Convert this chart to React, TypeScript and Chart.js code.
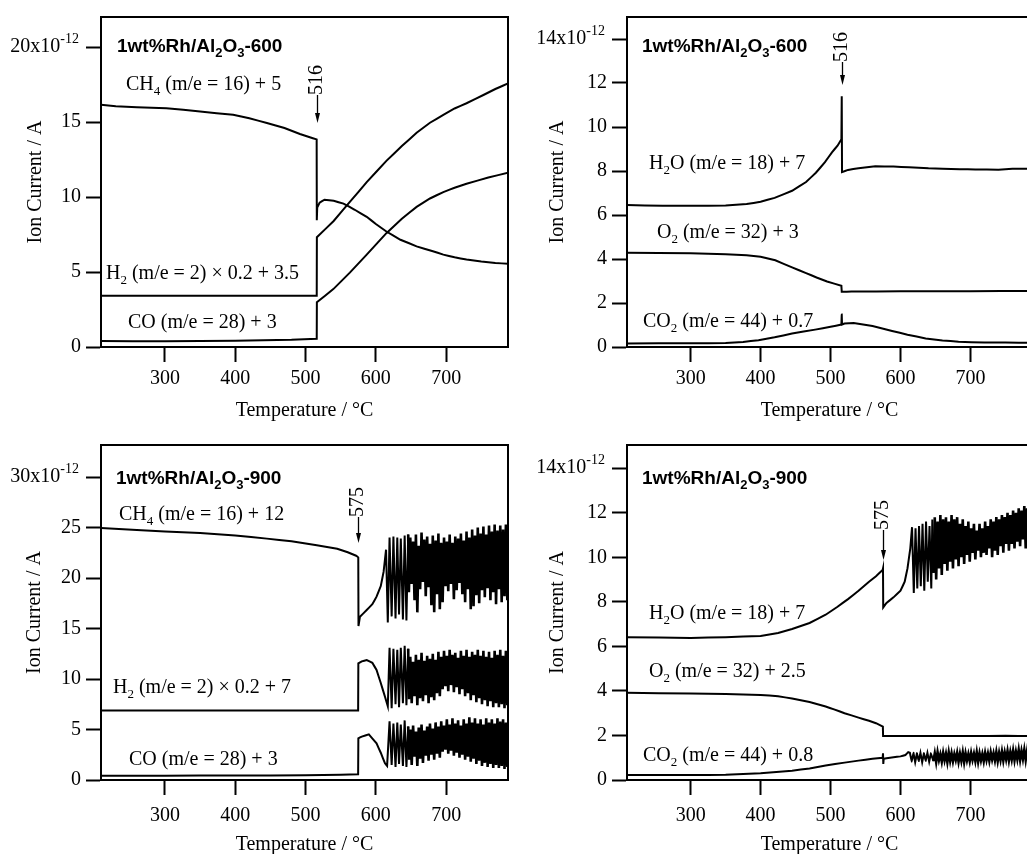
import React, { useEffect, useRef } from "react";
import { Chart, registerables } from "chart.js";

Chart.register(...registerables);

const SERIF = '"Liberation Serif", "Times New Roman", Times, serif';
const SANS = '"Liberation Sans", Arial, Helvetica, sans-serif';

// ---------------- ticks ----------------
const X_MIN = 209;
const X_MAX = 788;
const X_TICKS = [300, 400, 500, 600, 700];
const Y_TICKS_A600 = [0, 5, 10, 15, 20];
const Y_TICKS_B600 = [0, 2, 4, 6, 8, 10, 12, 14];
const Y_TICKS_A900 = [0, 5, 10, 15, 20, 25, 30];
const Y_TICKS_B900 = [0, 2, 4, 6, 8, 10, 12, 14];
const TOP_A600 = ["20x10", "-12"];
const TOP_B600 = ["14x10", "-12"];
const TOP_A900 = ["30x10", "-12"];
const TOP_B900 = ["14x10", "-12"];
const NOISE_START = 646; // temperature where the dense oscillation begins (900 sample)

// ---------------- Rh/Al2O3-600 : CH4, H2, CO ----------------
const T_CH4_600 = [209, 230, 260, 302, 350, 397, 420, 445, 470, 492, 505, 515.8, 516, 516.6, 520, 527, 540, 554, 570, 587, 600, 615, 635, 658, 680, 696, 712, 729, 750, 770, 788];
const CH4_600 = [16.15, 16.05, 15.98, 15.92, 15.7, 15.48, 15.25, 14.93, 14.6, 14.2, 14.0, 13.84, 8.45, 9.3, 9.62, 9.82, 9.75, 9.56, 9.15, 8.68, 8.2, 7.7, 7.15, 6.71, 6.4, 6.16, 5.98, 5.83, 5.7, 5.6, 5.55];
const T_H2_600 = [209, 300, 400, 515.9, 516.1, 540, 563, 587, 615, 637, 658, 677, 696, 712, 729, 753, 770, 788];
const H2_600 = [3.42, 3.42, 3.42, 3.42, 7.32, 8.4, 9.67, 10.99, 12.41, 13.4, 14.28, 14.95, 15.48, 15.9, 16.25, 16.8, 17.2, 17.57];
const T_CO_600 = [209, 300, 400, 480, 515.9, 516.1, 539.5, 563, 587, 615, 637, 658, 677, 696, 712, 729, 760, 788];
const CO_600 = [0.4, 0.38, 0.42, 0.48, 0.55, 2.98, 3.86, 4.96, 6.16, 7.59, 8.55, 9.34, 9.9, 10.33, 10.62, 10.88, 11.3, 11.62];

// ---------------- Rh/Al2O3-600 : H2O, O2, CO2 ----------------
const T_H2O_600 = [209, 260, 300, 350, 380, 400, 420, 445, 465, 479, 492, 502, 510, 515.5, 516, 516.4, 525, 540, 564, 590, 612, 640, 660, 685, 707, 740, 760, 788];
const H2O_600 = [6.45, 6.42, 6.42, 6.43, 6.5, 6.6, 6.78, 7.1, 7.5, 7.92, 8.4, 8.85, 9.15, 9.44, 11.4, 7.95, 8.05, 8.13, 8.22, 8.2, 8.17, 8.12, 8.1, 8.08, 8.07, 8.06, 8.1, 8.1];
const T_O2_600 = [209, 300, 350, 380, 400, 421, 445, 465, 480, 495, 515.5, 516, 530, 600, 700, 788];
const O2_600 = [4.28, 4.26, 4.22, 4.17, 4.1, 3.94, 3.62, 3.36, 3.16, 2.98, 2.78, 2.51, 2.52, 2.53, 2.53, 2.55];
const T_CO2_600 = [209, 300, 350, 375, 397, 420, 445, 478, 500, 515.5, 516, 516.4, 520, 533, 560, 588, 610, 636, 660, 683, 720, 750, 788];
const CO2_600 = [0.16, 0.17, 0.18, 0.23, 0.31, 0.44, 0.61, 0.79, 0.92, 1.02, 1.48, 1.02, 1.07, 1.09, 0.95, 0.73, 0.56, 0.39, 0.3, 0.24, 0.2, 0.2, 0.19];

// ---------------- Rh/Al2O3-900 : CH4, H2, CO ----------------
const T_CH4_900 = [209, 260, 300, 350, 400, 445, 480, 516, 545, 560, 572, 575, 575.3, 577.4, 587, 595, 601, 607, 611, 614.5, 617, 619.5, 622.5, 625, 628, 630.5, 633, 635.5, 638.5, 641, 643.5, 646];
const CH4_900 = [24.95, 24.75, 24.6, 24.45, 24.2, 23.9, 23.65, 23.25, 22.9, 22.55, 22.2, 22.05, 15.25, 16.17, 16.83, 17.4, 18.15, 19.2, 20.6, 22.8, 15.6, 24.0, 16.2, 24.1, 16.0, 24.0, 16.4, 23.9, 15.9, 24.2, 15.8, 24.3];
const T_H2_900 = [209, 300, 400, 500, 574.8, 575.1, 580, 587, 595, 601, 607, 613, 617, 619.5, 622.5, 625, 628, 630.5, 633, 635.5, 638.5, 641, 643.5, 646];
const H2_900 = [6.87, 6.87, 6.87, 6.87, 6.87, 11.55, 11.75, 11.88, 11.6, 10.9, 9.6, 8.25, 7.3, 13.1, 7.1, 13.0, 7.5, 12.9, 7.2, 13.1, 7.6, 13.3, 7.4, 13.0];
const T_CO_900 = [209, 300, 400, 500, 550, 574.8, 575.1, 580, 590, 601, 607, 613, 616, 619.5, 622.5, 625, 628, 630.5, 633, 635.5, 638.5, 641, 643.5, 646];
const CO_900 = [0.43, 0.43, 0.44, 0.47, 0.52, 0.56, 4.13, 4.3, 4.52, 3.63, 2.7, 1.65, 1.4, 5.8, 1.5, 5.6, 1.3, 5.7, 1.6, 5.5, 1.4, 5.9, 1.3, 5.3];

// dense oscillation region, shared temperature grid
const T_NOISE_900 = [647, 649, 651, 653, 655, 657, 659, 661, 663, 665, 667, 669, 671, 673, 675, 677, 679, 681, 683, 685, 687, 689, 691, 693, 695, 697, 699, 701, 703, 705, 707, 709, 711, 713, 715, 717, 719, 721, 723, 725, 727, 729, 731, 733, 735, 737, 739, 741, 743, 745, 747, 749, 751, 753, 755, 757, 759, 761, 763, 765, 767, 769, 771, 773, 775, 777, 779, 781, 783, 785, 787];
const CH4_900_N = [18.6, 24.0, 19.4, 23.6, 17.8, 24.3, 16.6, 23.2, 18.9, 24.5, 19.6, 23.8, 18.2, 24.1, 19.1, 23.4, 17.3, 24.2, 16.6, 23.7, 18.4, 24.4, 16.9, 23.5, 17.6, 24.0, 19.2, 23.6, 18.7, 24.3, 19.4, 23.5, 17.9, 24.1, 18.8, 23.9, 19.5, 24.4, 18.4, 23.7, 17.6, 24.6, 18.9, 24.0, 16.9, 24.8, 17.2, 24.2, 18.3, 25.0, 17.5, 24.4, 18.8, 25.1, 18.1, 24.3, 19.0, 25.2, 17.8, 24.6, 18.6, 25.3, 17.4, 24.7, 18.9, 25.2, 17.6, 24.8, 18.2, 25.3, 17.8];
const H2_900_N = [8.0, 12.2, 7.6, 11.7, 8.3, 12.4, 7.4, 11.9, 8.1, 12.6, 7.8, 11.8, 8.4, 12.3, 7.6, 12.0, 8.2, 12.5, 7.9, 11.9, 8.6, 12.7, 8.3, 12.2, 9.0, 12.8, 9.3, 12.3, 8.8, 12.9, 9.4, 12.4, 8.7, 12.6, 9.2, 12.1, 8.5, 12.8, 9.0, 12.3, 8.3, 12.9, 8.6, 12.2, 7.9, 12.7, 8.4, 12.4, 7.7, 12.9, 8.1, 12.3, 7.5, 12.8, 7.9, 12.2, 7.3, 12.7, 7.8, 12.1, 7.2, 12.8, 7.6, 12.4, 7.2, 12.9, 7.5, 12.3, 7.1, 12.8, 7.4];
const CO_900_N = [2.0, 5.0, 1.5, 5.4, 2.3, 4.8, 1.4, 5.2, 2.1, 5.5, 1.7, 4.9, 2.4, 5.3, 1.9, 5.6, 2.5, 5.1, 2.0, 5.7, 2.6, 5.3, 2.2, 5.8, 2.8, 5.4, 3.0, 6.0, 2.6, 5.5, 2.9, 6.1, 2.4, 5.6, 2.7, 5.9, 2.2, 5.4, 2.5, 6.0, 2.0, 5.6, 2.3, 6.2, 1.8, 5.7, 2.1, 6.1, 1.6, 5.6, 1.9, 6.0, 1.4, 5.5, 1.7, 6.1, 1.3, 5.7, 1.6, 6.0, 1.2, 5.6, 1.5, 6.1, 1.2, 5.8, 1.4, 6.0, 1.1, 5.7, 1.3];

// ---------------- Rh/Al2O3-900 : H2O, O2, CO2 ----------------
const T_H2O_900 = [209, 300, 350, 400, 425, 445, 470, 493, 510, 525, 540, 555, 565, 574.5, 575, 575.3, 580, 590, 600, 606, 610, 614, 616.5, 619, 621.5, 624, 626.5, 629, 631.5, 634, 636.5, 639, 641.5, 644, 645.5];
const H2O_900 = [6.41, 6.38, 6.41, 6.47, 6.6, 6.78, 7.05, 7.42, 7.78, 8.12, 8.5, 8.9, 9.15, 9.43, 9.5, 7.75, 7.95, 8.2, 8.5, 8.9, 9.5, 10.4, 11.35, 8.4, 11.3, 8.6, 11.4, 8.7, 11.5, 8.5, 11.6, 8.9, 11.4, 8.6, 11.7];
const T_O2_900 = [209, 300, 350, 400, 425, 445, 470, 493, 505, 520, 540, 555, 565, 574.8, 575.1, 600, 650, 700, 750, 788];
const O2_900 = [3.92, 3.88, 3.86, 3.82, 3.76, 3.66, 3.5, 3.3, 3.17, 3.0, 2.8, 2.66, 2.55, 2.4, 1.97, 1.97, 1.98, 1.97, 1.99, 1.97];
const T_CO2_900 = [209, 300, 350, 400, 445, 470, 493, 520, 540, 560, 574.5, 575, 575.4, 576, 580, 590, 600, 607, 611, 613.5, 616, 618.5, 621, 623.5, 626, 628.5, 631, 633.5, 636, 638.5, 641, 643.5];
const CO2_900 = [0.22, 0.22, 0.24, 0.3, 0.42, 0.52, 0.65, 0.78, 0.87, 0.95, 1.0, 1.2, 0.72, 0.95, 0.98, 1.02, 1.06, 1.12, 1.25, 1.22, 0.82, 1.22, 0.8, 1.2, 0.85, 1.22, 0.8, 1.2, 0.86, 1.22, 0.82, 1.2];
const H2O_900_N = [9.3, 11.8, 9.0, 11.6, 9.5, 11.9, 9.2, 11.7, 9.7, 11.8, 9.4, 11.6, 9.8, 11.9, 9.5, 11.7, 9.9, 11.8, 9.6, 11.5, 10.0, 11.7, 9.7, 11.4, 10.1, 11.6, 9.8, 11.3, 10.2, 11.5, 9.9, 11.2, 10.3, 11.5, 10.0, 11.3, 10.2, 11.6, 10.1, 11.4, 10.4, 11.7, 10.0, 11.6, 10.3, 11.8, 10.1, 11.7, 10.5, 11.9, 10.2, 11.8, 10.6, 12.0, 10.3, 11.9, 10.6, 12.1, 10.4, 12.0, 10.7, 12.2, 10.5, 12.1, 10.8, 12.3, 10.4, 12.2, 10.7, 12.3, 10.6];
const CO2_900_N = [0.85, 1.2, 0.8, 1.25, 0.9, 1.15, 0.82, 1.22, 0.88, 1.18, 0.8, 1.24, 0.86, 1.2, 0.84, 1.16, 0.9, 1.22, 0.82, 1.18, 0.86, 1.24, 0.8, 1.2, 0.88, 1.16, 0.84, 1.22, 0.9, 1.18, 0.85, 1.25, 0.82, 1.2, 0.88, 1.17, 0.84, 1.22, 0.9, 1.19, 0.86, 1.24, 0.92, 1.2, 0.88, 1.26, 0.85, 1.22, 0.9, 1.28, 0.87, 1.24, 0.93, 1.3, 0.88, 1.25, 0.92, 1.32, 0.89, 1.27, 0.94, 1.35, 0.9, 1.3, 0.95, 1.36, 0.9, 1.32, 0.93, 1.37, 0.92];

// ---------------- text ----------------
type Seg = [string, "n" | "sub"];
const TITLE_600: Seg[] = [["1wt%Rh/Al", "n"], ["2", "sub"], ["O", "n"], ["3", "sub"], ["-600", "n"]];
const TITLE_900: Seg[] = [["1wt%Rh/Al", "n"], ["2", "sub"], ["O", "n"], ["3", "sub"], ["-900", "n"]];
const L_CH4_600: Seg[] = [["CH", "n"], ["4", "sub"], [" (m/e = 16) + 5", "n"]];
const L_H2_600: Seg[] = [["H", "n"], ["2", "sub"], [" (m/e = 2) \u00d7 0.2 + 3.5", "n"]];
const L_CO_600: Seg[] = [["CO (m/e = 28) + 3", "n"]];
const L_H2O_600: Seg[] = [["H", "n"], ["2", "sub"], ["O (m/e = 18) + 7", "n"]];
const L_O2_600: Seg[] = [["O", "n"], ["2", "sub"], [" (m/e = 32) + 3", "n"]];
const L_CO2_600: Seg[] = [["CO", "n"], ["2", "sub"], [" (m/e = 44) + 0.7", "n"]];
const L_CH4_900: Seg[] = [["CH", "n"], ["4", "sub"], [" (m/e = 16) + 12", "n"]];
const L_H2_900: Seg[] = [["H", "n"], ["2", "sub"], [" (m/e = 2) \u00d7 0.2 + 7", "n"]];
const L_CO_900: Seg[] = [["CO (m/e = 28) + 3", "n"]];
const L_H2O_900: Seg[] = [["H", "n"], ["2", "sub"], ["O (m/e = 18) + 7", "n"]];
const L_O2_900: Seg[] = [["O", "n"], ["2", "sub"], [" (m/e = 32) + 2.5", "n"]];
const L_CO2_900: Seg[] = [["CO", "n"], ["2", "sub"], [" (m/e = 44) + 0.8", "n"]];

type Pt = { x: number; y: number };
type Series = { pts: Pt[]; dense: boolean };
function pts(t: number[], v: number[]): Pt[] {
  return t.map((x, i) => ({ x, y: v[i] }));
}

interface PanelDef {
  canvas: { left: number; top: number; width: number; height: number };
  area: { l: number; t: number; r: number; b: number };
  yMax: number;
  yTicks: number[];
  topLabel: string[];
  series: Series[];
  title: { segs: Seg[]; x: number; y: number };
  labels: { segs: Seg[]; x: number; y: number }[];
  marker: { value: number; text: string; textBottom: number; tip: number };
  yTitlePad: number;
  xTitlePad: number;
  xTickPad: number;
}

const PANELS: PanelDef[] = [
  {
    canvas: { left: 0, top: 0, width: 515, height: 425 },
    area: { l: 101, t: 13, r: 508, b: 347 },
    yMax: 22,
    yTicks: Y_TICKS_A600,
    topLabel: TOP_A600,
    series: [
      { pts: pts(T_CH4_600, CH4_600), dense: false },
      { pts: pts(T_H2_600, H2_600), dense: false },
      { pts: pts(T_CO_600, CO_600), dense: false },
    ],
    title: { segs: TITLE_600, x: 117, y: 52 },
    labels: [
      { segs: L_CH4_600, x: 126, y: 90 },
      { segs: L_H2_600, x: 106, y: 279 },
      { segs: L_CO_600, x: 128, y: 328 },
    ],
    marker: { value: 516, text: "516", textBottom: 95, tip: 123 },
    yTitlePad: 24,
    xTitlePad: 2,
    xTickPad: 5,
  },
  {
    canvas: { left: 515, top: 0, width: 530, height: 425 },
    area: { l: 627, t: 13, r: 1032, b: 347 },
    yMax: 15,
    yTicks: Y_TICKS_B600,
    topLabel: TOP_B600,
    series: [
      { pts: pts(T_H2O_600, H2O_600), dense: false },
      { pts: pts(T_O2_600, O2_600), dense: false },
      { pts: pts(T_CO2_600, CO2_600), dense: false },
    ],
    title: { segs: TITLE_600, x: 642, y: 52 },
    labels: [
      { segs: L_H2O_600, x: 649, y: 169 },
      { segs: L_O2_600, x: 657, y: 238 },
      { segs: L_CO2_600, x: 643, y: 327 },
    ],
    marker: { value: 516, text: "516", textBottom: 62, tip: 85 },
    yTitlePad: 31,
    xTitlePad: 2,
    xTickPad: 5,
  },
  {
    canvas: { left: 0, top: 425, width: 515, height: 435 },
    area: { l: 101, t: 445, r: 508, b: 780 },
    yMax: 33.17,
    yTicks: Y_TICKS_A900,
    topLabel: TOP_A900,
    series: [
      { pts: pts(T_CH4_900, CH4_900).concat(pts(T_NOISE_900, CH4_900_N)), dense: true },
      { pts: pts(T_H2_900, H2_900).concat(pts(T_NOISE_900, H2_900_N)), dense: true },
      { pts: pts(T_CO_900, CO_900).concat(pts(T_NOISE_900, CO_900_N)), dense: true },
    ],
    title: { segs: TITLE_900, x: 116, y: 484 },
    labels: [
      { segs: L_CH4_900, x: 119, y: 520 },
      { segs: L_H2_900, x: 113, y: 693 },
      { segs: L_CO_900, x: 129, y: 765 },
    ],
    marker: { value: 575, text: "575", textBottom: 517, tip: 543 },
    yTitlePad: 23,
    xTitlePad: 3,
    xTickPad: 9,
  },
  {
    canvas: { left: 515, top: 425, width: 530, height: 435 },
    area: { l: 627, t: 445, r: 1032, b: 780 },
    yMax: 15.04,
    yTicks: Y_TICKS_B900,
    topLabel: TOP_B900,
    series: [
      { pts: pts(T_H2O_900, H2O_900).concat(pts(T_NOISE_900, H2O_900_N)), dense: true },
      { pts: pts(T_O2_900, O2_900), dense: false },
      { pts: pts(T_CO2_900, CO2_900).concat(pts(T_NOISE_900, CO2_900_N)), dense: true },
    ],
    title: { segs: TITLE_900, x: 642, y: 484 },
    labels: [
      { segs: L_H2O_900, x: 649, y: 619 },
      { segs: L_O2_900, x: 649, y: 677 },
      { segs: L_CO2_900, x: 643, y: 761 },
    ],
    marker: { value: 575, text: "575", textBottom: 530, tip: 560 },
    yTitlePad: 31,
    xTitlePad: 3,
    xTickPad: 9,
  },
];

function drawSegs(ctx: CanvasRenderingContext2D, segs: Seg[], x: number, y: number, weight: string, size: number, subSize: number, family: string) {
  ctx.textAlign = "left";
  ctx.textBaseline = "alphabetic";
  let cx = x;
  for (const [t, k] of segs) {
    const s = k === "n" ? size : subSize;
    ctx.font = `${weight} ${s}px ${family}`.trim();
    ctx.fillText(t, cx, k === "sub" ? y + 5 : y);
    cx += ctx.measureText(t).width;
  }
}

function makeDecor(p: PanelDef) {
  return {
    id: "decor",
    afterDraw(chart: any) {
      const ctx: CanvasRenderingContext2D = chart.ctx;
      const ca = chart.chartArea;
      const ox = p.canvas.left;
      const oy = p.canvas.top;
      const xs = chart.scales.x;
      const ys = chart.scales.y;
      ctx.save();
      ctx.strokeStyle = "#000";
      ctx.fillStyle = "#000";
      ctx.lineWidth = 2;
      ctx.strokeRect(ca.left, ca.top, ca.right - ca.left, ca.bottom - ca.top);

      // top tick label with exponent
      const topVal = p.yTicks[p.yTicks.length - 1];
      const ty = ys.getPixelForValue(topVal);
      const rx = ca.left - 22;
      ctx.textAlign = "right";
      ctx.textBaseline = "middle";
      ctx.font = `14px ${SERIF}`;
      const sw = ctx.measureText(p.topLabel[1]).width;
      ctx.fillText(p.topLabel[1], rx, ty - 8);
      ctx.font = `20px ${SERIF}`;
      ctx.fillText(p.topLabel[0], rx - sw, ty);

      // panel title and series labels
      drawSegs(ctx, p.title.segs, p.title.x - ox, p.title.y - oy, "bold", 19, 13, SANS);
      for (const l of p.labels) drawSegs(ctx, l.segs, l.x - ox, l.y - oy, "", 20, 13, SERIF);

      // transition temperature marker
      const mx = Math.round(xs.getPixelForValue(p.marker.value)) + 0.5;
      const tb = p.marker.textBottom - oy;
      const tip = p.marker.tip - oy;
      ctx.save();
      ctx.translate(mx - 1, tb);
      ctx.rotate(-Math.PI / 2);
      ctx.font = `20px ${SERIF}`;
      ctx.textAlign = "left";
      ctx.textBaseline = "middle";
      ctx.fillText(p.marker.text, 0, 0);
      ctx.restore();
      ctx.lineWidth = 1.3;
      ctx.beginPath();
      ctx.moveTo(mx, tb);
      ctx.lineTo(mx, tip - 6);
      ctx.stroke();
      ctx.beginPath();
      ctx.moveTo(mx - 2.5, tip - 10);
      ctx.lineTo(mx + 2.5, tip - 10);
      ctx.lineTo(mx, tip);
      ctx.closePath();
      ctx.fill();
      ctx.restore();
    },
  };
}

function buildConfig(p: PanelDef): any {
  const cv = p.canvas;
  const a = { l: p.area.l - cv.left, t: p.area.t - cv.top, r: p.area.r - cv.left, b: p.area.b - cv.top };
  const topVal = p.yTicks[p.yTicks.length - 1];
  const font = { family: SERIF, size: 20 };
  const grid = {
    display: true,
    drawOnChartArea: false,
    drawTicks: true,
    tickLength: 15,
    tickWidth: 2,
    tickColor: "#000",
    color: "#000",
  };
  const border = { display: true, color: "#000", width: 2 };
  return {
    type: "line",
    data: {
      datasets: p.series.map((s) => ({
        data: s.pts,
        borderColor: "#000",
        backgroundColor: "#000",
        borderWidth: 2,
        pointRadius: 0,
        fill: false,
        tension: 0.0001,
        segment: s.dense
          ? { borderWidth: (c: any) => (c.p0.parsed.x >= NOISE_START ? 2.6 : 2) }
          : undefined,
      })),
    },
    options: {
      responsive: false,
      animation: false,
      devicePixelRatio: 1,
      events: [],
      layout: { autoPadding: false, padding: { left: 0, top: a.t, right: cv.width - a.r, bottom: 0 } },
      plugins: { legend: { display: false }, tooltip: { enabled: false } },
      scales: {
        x: {
          type: "linear",
          position: "bottom",
          min: X_MIN,
          max: X_MAX,
          afterBuildTicks: (s: any) => {
            s.ticks = X_TICKS.map((v) => ({ value: v }));
          },
          afterFit: (s: any) => {
            s.height = cv.height - a.b;
          },
          ticks: { font, color: "#000", padding: p.xTickPad, maxRotation: 0, autoSkip: false, callback: (v: any) => String(v) },
          grid,
          border,
          title: { display: true, text: "Temperature / \u00b0C", font, color: "#000", padding: { top: 0, bottom: p.xTitlePad } },
        },
        y: {
          type: "linear",
          position: "left",
          min: 0,
          max: p.yMax,
          afterBuildTicks: (s: any) => {
            s.ticks = p.yTicks.map((v) => ({ value: v }));
          },
          afterFit: (s: any) => {
            s.width = a.l;
          },
          ticks: { font, color: "#000", padding: 5, autoSkip: false, callback: (v: any) => (v === topVal ? "" : String(v)) },
          grid,
          border,
          title: { display: true, text: "Ion Current / A", font, color: "#000", padding: { top: p.yTitlePad, bottom: 0 } },
        },
      },
    },
    plugins: [makeDecor(p)],
  };
}

function Panel({ def }: { def: PanelDef }) {
  const ref = useRef<HTMLCanvasElement>(null);
  useEffect(() => {
    const c = ref.current;
    if (!c) return;
    const chart = new Chart(c, buildConfig(def));
    return () => chart.destroy();
  }, [def]);
  return (
    <canvas
      ref={ref}
      width={def.canvas.width}
      height={def.canvas.height}
      style={{
        position: "absolute",
        left: def.canvas.left,
        top: def.canvas.top,
        width: def.canvas.width,
        height: def.canvas.height,
      }}
    />
  );
}

export default function App() {
  return (
    <div
      style={{
        position: "fixed",
        left: 0,
        top: 0,
        width: 1027,
        height: 854,
        overflow: "hidden",
        background: "#fff",
      }}
    >
      {PANELS.map((p, i) => (
        <Panel key={i} def={p} />
      ))}
    </div>
  );
}
